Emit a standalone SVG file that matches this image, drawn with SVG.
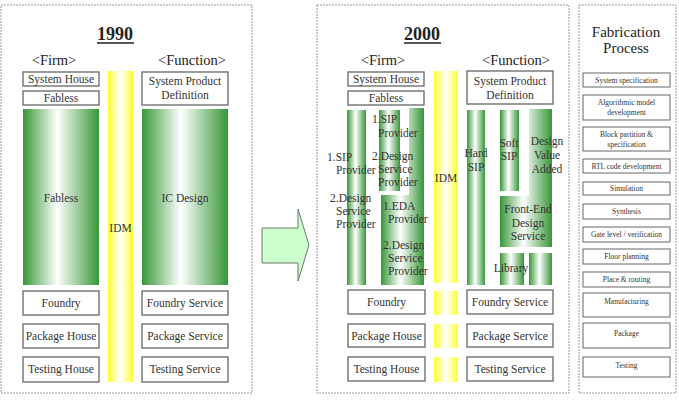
<svg xmlns="http://www.w3.org/2000/svg" width="679" height="403" viewBox="0 0 679 403" font-family="'Liberation Serif', 'DejaVu Serif', serif">
<defs>
<linearGradient id="gG" x1="0" y1="0" x2="1" y2="0">
<stop offset="0" stop-color="#379737"/><stop offset="0.45" stop-color="#ffffff"/><stop offset="1" stop-color="#379737"/>
</linearGradient>
<linearGradient id="yG" x1="0" y1="0" x2="1" y2="0">
<stop offset="0" stop-color="#ffff30"/><stop offset="0.5" stop-color="#ffffff"/><stop offset="1" stop-color="#ffff30"/>
</linearGradient>
<style>
.panel{fill:#fff;stroke:#9a9a9a;stroke-width:1;stroke-dasharray:2 1}
.box{fill:#fff;stroke:#666;stroke-width:1.3}
.fbox{fill:#fff;stroke:#666;stroke-width:1}
.grn{fill:url(#gG);stroke:none}
.yel{fill:url(#yG);stroke:none}
text{fill:#333}
.t{font-size:11.5px;text-anchor:middle}
.s{font-size:11.5px}
.h{font-size:14.5px;text-anchor:middle;fill:#222}
.title{font-size:18px;font-weight:bold;text-anchor:middle;fill:#222}
.f{font-size:7.5px;text-anchor:middle}
</style>
</defs>

<g id="panel1990">
<rect class="panel" x="1" y="5" width="251" height="388"/>
<text class="title" x="115" y="40">1990</text>
<line x1="97" y1="43" x2="134" y2="43" stroke="#222" stroke-width="1.5"/>
<text class="h" x="54" y="65">&lt;Firm&gt;</text>
<text class="h" x="192" y="65">&lt;Function&gt;</text>
</g>
<g id="n1990-systemhouse"><rect class="box" x="23" y="72" width="76" height="14"/><text class="t" x="61" y="83">System House</text></g>
<g id="n1990-fabless-top"><rect class="box" x="23" y="91" width="76" height="14"/><text class="t" x="61" y="102">Fabless</text></g>
<g id="n1990-spd"><rect class="box" x="142" y="72" width="86" height="33"/><text class="t" x="185" y="85">System Product</text><text class="t" x="185" y="99">Definition</text></g>
<g id="n1990-idm"><rect class="yel" x="108" y="71" width="25" height="311"/><text class="t" x="120.5" y="232">IDM</text></g>
<g id="n1990-fabless"><rect class="grn" x="23" y="109" width="76" height="176"/><text class="t" x="61" y="202">Fabless</text></g>
<g id="n1990-icdesign"><rect class="grn" x="142" y="109" width="86" height="176"/><text class="t" x="185" y="202">IC Design</text></g>
<g id="n1990-foundry"><rect class="box" x="23" y="291" width="76" height="24"/><text class="t" x="61" y="307">Foundry</text></g>
<g id="n1990-package"><rect class="box" x="23" y="324" width="76" height="24"/><text class="t" x="61" y="340">Package House</text></g>
<g id="n1990-testing"><rect class="box" x="23" y="357" width="76" height="25"/><text class="t" x="61" y="373">Testing House</text></g>
<g id="n1990-foundrysvc"><rect class="box" x="142" y="291" width="86" height="24"/><text class="t" x="185" y="307">Foundry Service</text></g>
<g id="n1990-packagesvc"><rect class="box" x="142" y="324" width="86" height="24"/><text class="t" x="185" y="340">Package Service</text></g>
<g id="n1990-testingsvc"><rect class="box" x="142" y="357" width="86" height="25"/><text class="t" x="185" y="373">Testing Service</text></g>

<g id="connectors">
<path d="M262,228 H298 V209 L309,245 L298,281 V263 H262 Z" fill="#ccffcc" stroke="#6a7a6a" stroke-width="1"/>
</g>

<g id="panel2000">
<rect class="panel" x="317" y="5" width="252" height="388"/>
<text class="title" x="422" y="40">2000</text>
<line x1="404" y1="43" x2="441" y2="43" stroke="#222" stroke-width="1.5"/>
<text class="h" x="383" y="65">&lt;Firm&gt;</text>
<text class="h" x="516" y="65">&lt;Function&gt;</text>
</g>
<g id="n2000-systemhouse"><rect class="box" x="348" y="72" width="76" height="14"/><text class="t" x="386" y="83">System House</text></g>
<g id="n2000-fabless-top"><rect class="box" x="348" y="91" width="76" height="14"/><text class="t" x="386" y="102">Fabless</text></g>
<g id="n2000-spd"><rect class="box" x="467" y="71" width="86" height="33"/><text class="t" x="510" y="85">System Product</text><text class="t" x="510" y="99">Definition</text></g>
<g id="n2000-idm">
<rect class="yel" x="434" y="71" width="24" height="212"/>
<rect class="yel" x="434" y="291" width="24" height="24"/>
<rect class="yel" x="434" y="324" width="24" height="24"/>
<rect class="yel" x="434" y="357" width="24" height="25"/>
<text class="t" x="446" y="182">IDM</text>
</g>
<g id="n2000-barC">
<path class="grn" d="M409,108 H424 V285 H381 V195 H409 Z"/>
<text class="s" x="383" y="210">1.EDA</text>
<text class="s" x="388" y="223">Provider</text>
<text class="s" x="383" y="249">2.Design</text>
<text class="s" x="388" y="262">Service</text>
<text class="s" x="388" y="275">Provider</text>
</g>
<g id="n2000-barA">
<rect class="grn" x="347" y="110" width="19" height="175"/>
<text class="s" x="327" y="161">1.SIP</text>
<text class="s" x="336" y="174">Provider</text>
<text class="s" x="330" y="202">2.Design</text>
<text class="s" x="336" y="215">Service</text>
<text class="s" x="336" y="228">Provider</text>
</g>
<g id="n2000-barB">
<rect class="grn" x="379" y="110" width="21" height="81"/>
<text class="s" x="372" y="123">1.SIP</text>
<text class="s" x="378" y="137">Provider</text>
<text class="s" x="372" y="160">2.Design</text>
<text class="s" x="378" y="173">Service</text>
<text class="s" x="378" y="186">Provider</text>
</g>
<g id="n2000-hardsip"><rect class="grn" x="467" y="110" width="18" height="175"/><text class="t" x="476" y="157">Hard</text><text class="t" x="476" y="171">SIP</text></g>
<g id="n2000-softsip"><rect class="grn" x="500" y="110" width="19" height="81"/><text class="t" x="509" y="147">Soft</text><text class="t" x="509" y="160">SIP</text></g>
<g id="n2000-dva">
<path class="grn" d="M529,109 H552 V247 H500 V196 H529 Z"/>
<text class="t" x="547" y="145">Design</text><text class="t" x="547" y="159">Value</text><text class="t" x="547" y="173">Added</text>
<text class="t" x="528" y="213">Front-End</text><text class="t" x="528" y="227">Design</text><text class="t" x="528" y="240">Service</text>
</g>
<g id="n2000-library">
<rect class="grn" x="500" y="253" width="24" height="32"/>
<rect class="grn" x="529" y="253" width="23" height="32"/>
<text class="t" x="511" y="272">Library</text>
</g>
<g id="n2000-foundry"><rect class="box" x="348" y="290" width="77" height="24"/><text class="t" x="386.5" y="306">Foundry</text></g>
<g id="n2000-package"><rect class="box" x="348" y="324" width="77" height="23"/><text class="t" x="386.5" y="340">Package House</text></g>
<g id="n2000-testing"><rect class="box" x="348" y="357" width="77" height="24"/><text class="t" x="386.5" y="373">Testing House</text></g>
<g id="n2000-foundrysvc"><rect class="box" x="467" y="290" width="86" height="24"/><text class="t" x="510" y="306">Foundry Service</text></g>
<g id="n2000-packagesvc"><rect class="box" x="467" y="324" width="86" height="23"/><text class="t" x="510" y="340">Package Service</text></g>
<g id="n2000-testingsvc"><rect class="box" x="467" y="357" width="86" height="24"/><text class="t" x="510" y="373">Testing Service</text></g>

<g id="panelfab">
<rect class="panel" x="579" y="5" width="97" height="388"/>
<text class="h" x="626" y="37" style="font-size:15px">Fabrication</text>
<text class="h" x="626" y="53" style="font-size:15px">Process</text>
</g>
<g id="fab-sysspec"><rect class="fbox" x="583" y="73" width="87" height="14"/><text class="f" x="626.5" y="83">System specification</text></g>
<g id="fab-algo"><rect class="fbox" x="583" y="95" width="87" height="25"/><text class="f" x="626.5" y="105">Algorithmic model</text><text class="f" x="626.5" y="115">development</text></g>
<g id="fab-block"><rect class="fbox" x="583" y="127" width="87" height="24"/><text class="f" x="626.5" y="137">Block partition &amp;</text><text class="f" x="626.5" y="147">specification</text></g>
<g id="fab-rtl"><rect class="fbox" x="583" y="159" width="87" height="14"/><text class="f" x="626.5" y="169">RTL code development</text></g>
<g id="fab-sim"><rect class="fbox" x="583" y="182" width="87" height="13"/><text class="f" x="626.5" y="191">Simulation</text></g>
<g id="fab-synth"><rect class="fbox" x="583" y="204" width="87" height="15"/><text class="f" x="626.5" y="214">Synthesis</text></g>
<g id="fab-gate"><rect class="fbox" x="583" y="227" width="87" height="15"/><text class="f" x="626.5" y="237">Gate level /  verification</text></g>
<g id="fab-floor"><rect class="fbox" x="583" y="249" width="87" height="15"/><text class="f" x="626.5" y="259">Floor planning</text></g>
<g id="fab-place"><rect class="fbox" x="583" y="272" width="87" height="15"/><text class="f" x="626.5" y="282">Place &amp; routing</text></g>
<g id="fab-manuf"><rect class="fbox" x="583" y="293" width="87" height="24"/><text class="f" x="626.5" y="304">Manufacturing</text></g>
<g id="fab-package"><rect class="fbox" x="583" y="323" width="87" height="25"/><text class="f" x="626.5" y="336">Package</text></g>
<g id="fab-testing"><rect class="fbox" x="583" y="357" width="87" height="20"/><text class="f" x="626.5" y="368">Testing</text></g>
</svg>
